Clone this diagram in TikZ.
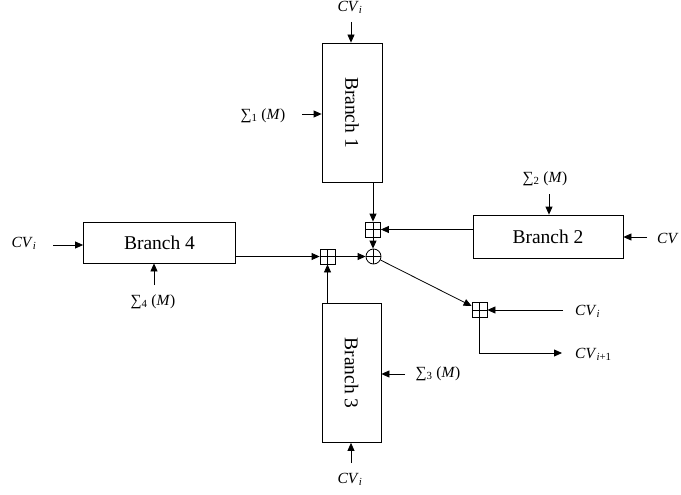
\documentclass[tikz,border=0pt]{standalone}
\usepackage{fontspec}
\usepackage{graphicx}
\setmainfont{Liberation Serif}
\usetikzlibrary{arrows.meta}
\newcommand\cvi{\textit{CV}\textsubscript{\textit{i}}}
\begin{document}
\begin{tikzpicture}[x=1pt,y=-1pt,
  blk/.style={draw, line width=0.8pt, inner sep=0pt, font=\fontsize{19.5}{22}\selectfont},
  lbl/.style={inner sep=0pt, font=\fontsize{15.5}{18}\selectfont},
  crossed/.style={path picture={\draw[line width=0.8pt]
      (path picture bounding box.north) -- (path picture bounding box.south)
      (path picture bounding box.west) -- (path picture bounding box.east);}},
  sq/.style={draw, line width=0.8pt, minimum size=15pt, inner sep=0pt, crossed},
  ci/.style={draw, circle, line width=0.8pt, minimum size=15pt, inner sep=0pt, crossed},
  ar/.style={line width=0.8pt, -{Triangle[length=8pt,width=7pt]}},
  ln/.style={line width=0.8pt}]
\useasboundingbox (0,0) rectangle (681,495);

% blocks
\node[blk, minimum width=60pt, minimum height=139pt] (b1) at (352,112.5) {\rotatebox{-90}{Branch 1}};
\node[blk, minimum width=150pt, minimum height=43pt] (b2) at (548,236.5) {Branch 2};
\node[blk, minimum width=59pt, minimum height=139pt] (b3) at (351.5,373) {\rotatebox{-90}{Branch 3}};
\node[blk, minimum width=152pt, minimum height=41pt] (b4) at (159.5,242.5) {Branch 4};

% combiners
\node[sq] (p1) at (373,229.5) {};
\node[sq] (p2) at (327.5,256.5) {};
\node[ci] (o) at (373.5,256.5) {};
\node[sq] (p3) at (479.5,310) {};

% labels
\node[lbl] (cvt) at (350,7) {\cvi};
\node[lbl] (s1) at (263,116) {∑\textsubscript{1} (\textit{M})};
\node[lbl] (s2) at (545,179) {∑\textsubscript{2} (\textit{M})};
\node[lbl, anchor=west] (cvr) at (657,238) {\textit{CV}};
\node[lbl] (cvl) at (24,243) {\cvi};
\node[lbl] (s4) at (153,302) {∑\textsubscript{4} (\textit{M})};
\node[lbl] (s3) at (438,374) {∑\textsubscript{3} (\textit{M})};
\node[lbl] (cvb) at (350,479) {\cvi};
\node[lbl, anchor=west] (cvo) at (575,311) {\cvi};
\node[lbl, anchor=west] (cvn) at (575,354) {\textit{CV}\textsubscript{\textit{i}+1}};

% free ends
\coordinate (cvta) at (351,22);
\coordinate (s1a) at (302,114);
\coordinate (s2a) at (549,194);
\coordinate (cvra) at (647,237);
\coordinate (cvla) at (53,245);
\coordinate (s4a) at (154,285);
\coordinate (s3a) at (405,374);
\coordinate (cvba) at (351,463);
\coordinate (cvoa) at (563,310);
\coordinate (cvna) at (562,353);

% inputs
\draw[ar] (cvta) -- (cvta |- b1.north);
\draw[ar] (s1a) -- (s1a -| b1.west);
\draw[ar] (s2a) -- (s2a |- b2.north);
\draw[ar] (cvra) -- (cvra -| b2.east);
\draw[ar] (cvla) -- (cvla -| b4.west);
\draw[ar] (s4a) -- (s4a |- b4.south);
\draw[ar] (s3a) -- (s3a -| b3.east);
\draw[ar] (cvba) -- (cvba |- b3.south);

% internal
\draw[ar] (p1 |- b1.south) -- (p1.north);
\draw[ar] (b2.west |- p1) -- (p1.east);
\draw[ar] (p1.south) -- (p1.south |- o.north);
\draw[ar] (b4.east |- p2) -- (p2.west);
\draw[ar] (p2 |- b3.north) -- (p2.south);
\draw[ar] (p2.east) -- (o.west);
\draw[ar] (o) -- (p3);
\draw[ar] (cvoa) -- (p3.east);
\draw[ar] (p3.south) |- (cvna);
\end{tikzpicture}
\end{document}
